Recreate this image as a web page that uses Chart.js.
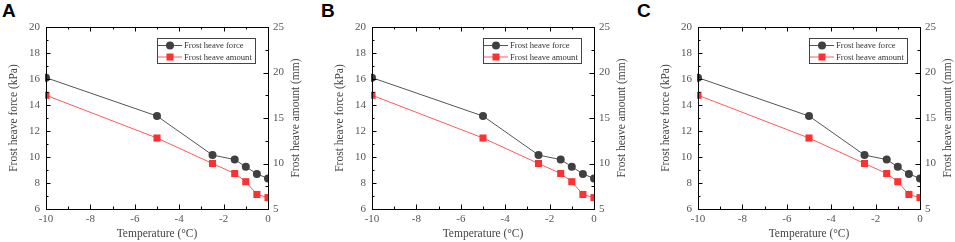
<!DOCTYPE html>
<html>
<head>
<meta charset="utf-8">
<script src="https://cdn.jsdelivr.net/npm/chart.js@4.4.1/dist/chart.umd.min.js"></script>
<style>
  html, body { margin: 0; padding: 0; background: #fff; }
  body { width: 955px; height: 242px; position: relative; overflow: hidden; }
  .panel { position: absolute; top: 0; width: 303px; height: 242px; }
  .letter { position: absolute; top: 0; font: bold 19px "Liberation Sans", Arial, sans-serif; color: #000; }
</style>
</head>
<body>
<div class="letter" style="left:2px">A</div>
<div class="letter" style="left:321px">B</div>
<div class="letter" style="left:637px">C</div>
<div class="panel" style="left:0px"><canvas id="chartA"></canvas></div>
<div class="panel" style="left:326px"><canvas id="chartB"></canvas></div>
<div class="panel" style="left:652px"><canvas id="chartC"></canvas></div>
<script>
const temperatures = [-10, -5, -2.5, -1.5, -1, -0.5, 0];
const heaveForce = [16.1, 13.15, 10.15, 9.8, 9.25, 8.7, 8.35];
const heaveAmount = [17.5, 12.8, 10.0, 8.9, 8.0, 6.6, 6.25];
const panels = ["chartA", "chartB", "chartC"];

const serif = "'Liberation Serif', 'Times New Roman', serif";

// frame, inward ticks on all sides, right axis title, boxed legend
const decorPlugin = {
    id: "decor",
    afterDraw(chart) {
        const ctx = chart.ctx;
        const ca = chart.chartArea;
        const x = chart.scales.x, y = chart.scales.y, y1 = chart.scales.y1;
        ctx.save();
        ctx.strokeStyle = "#000";
        ctx.lineWidth = 1;
        ctx.strokeRect(Math.round(ca.left) + 0.5, Math.round(ca.top) + 0.5,
            Math.round(ca.right - ca.left), Math.round(ca.bottom - ca.top));

        const line = (x1, y1_, x2, y2) => {
            ctx.beginPath();
            ctx.moveTo(x1, y1_);
            ctx.lineTo(x2, y2);
            ctx.stroke();
        };

        for (let v = -10; v <= 0; v += 1) {
            const px = Math.round(x.getPixelForValue(v)) + 0.5;
            const len = v % 2 === 0 ? 4.5 : 2.5;
            line(px, ca.bottom, px, ca.bottom - len);
            line(px, ca.top, px, ca.top + len);
        }
        for (let v = 6; v <= 20; v += 1) {
            const py = Math.round(y.getPixelForValue(v)) + 0.5;
            const len = v % 2 === 0 ? 4.5 : 2.5;
            line(ca.left, py, ca.left + len, py);
        }
        for (let v = 5; v <= 25; v += 2.5) {
            const py = Math.round(y1.getPixelForValue(v)) + 0.5;
            const len = v % 5 === 0 ? 4.5 : 2.5;
            line(ca.right, py, ca.right - len, py);
        }

        // right axis title, reading bottom to top
        ctx.fillStyle = "#444";
        ctx.font = "11.5px " + serif;
        ctx.textAlign = "center";
        ctx.textBaseline = "middle";
        ctx.translate(ca.right + 28, (ca.top + ca.bottom) / 2);
        ctx.rotate(-Math.PI / 2);
        ctx.fillText("Frost heave amount (mm)", 0, 0);
        ctx.restore();

        // legend
        ctx.save();
        const lx = Math.round(ca.left + 111), ly = Math.round(ca.top + 11);
        ctx.strokeStyle = "#444";
        ctx.lineWidth = 1;
        ctx.strokeRect(lx + 0.5, ly + 0.5, 98, 25);
        chart.data.datasets.forEach((ds, i) => {
            const ry = ly + 7.5 + i * 11.5;
            ctx.strokeStyle = ds.borderColor;
            ctx.lineWidth = 1;
            line(lx + 1, ry, lx + 25, ry);
            ctx.fillStyle = ds.pointBackgroundColor;
            if (ds.pointStyle === "rect") {
                ctx.fillRect(lx + 13 - 3.5, ry - 3.5, 7, 7);
            } else {
                ctx.beginPath();
                ctx.arc(lx + 13, ry, 4, 0, Math.PI * 2);
                ctx.fill();
            }
            ctx.fillStyle = "#333";
            ctx.font = "8.6px " + serif;
            ctx.textAlign = "left";
            ctx.textBaseline = "middle";
            ctx.fillText(ds.label, lx + 27, ry + 0.5);
        });
        ctx.restore();
    },
};

const makeChart = (id) => {
    const ctx = document.getElementById(id).getContext("2d");
    return new Chart(ctx, {
        type: "line",
        data: {
            labels: temperatures,
            datasets: [
                {
                    label: "Frost heave force",
                    data: temperatures.map((t, i) => ({ x: t, y: heaveForce[i] })),
                    yAxisID: "y",
                    borderColor: "#555555",
                    borderWidth: 1,
                    pointStyle: "circle",
                    pointRadius: 4,
                    pointBackgroundColor: "#404040",
                    pointBorderWidth: 0,
                    clip: 1,
                },
                {
                    label: "Frost heave amount",
                    data: temperatures.map((t, i) => ({ x: t, y: heaveAmount[i] })),
                    yAxisID: "y1",
                    borderColor: "#ff5a5a",
                    borderWidth: 1,
                    pointStyle: "rect",
                    pointRadius: 5,
                    pointBackgroundColor: "#ff3030",
                    pointBorderWidth: 0,
                    clip: 1,
                },
            ],
        },
        options: {
            responsive: false,
            animation: false,
            events: [],
            layout: { padding: { top: 27, left: 0, right: 0, bottom: 0 } },
            plugins: {
                legend: { display: false },
                tooltip: { enabled: false },
            },
            scales: {
                x: {
                    type: "linear",
                    min: -10,
                    max: 0,
                    ticks: {
                        stepSize: 2,
                        color: "#555",
                        font: { family: serif, size: 11 },
                        padding: 4,
                        maxRotation: 0,
                    },
                    grid: { display: false, drawTicks: false },
                    border: { display: false },
                    title: {
                        display: true,
                        text: "Temperature (°C)",
                        color: "#444",
                        font: { family: serif, size: 11.5 },
                        padding: { top: 0, bottom: 1 },
                    },
                    afterFit: (s) => { s.height = 33; },
                },
                y: {
                    position: "left",
                    min: 6,
                    max: 20,
                    ticks: {
                        stepSize: 2,
                        color: "#555",
                        font: { family: serif, size: 11 },
                        padding: 6,
                    },
                    grid: { display: false, drawTicks: false },
                    border: { display: false },
                    title: {
                        display: true,
                        text: "Frost heave force (kPa)",
                        color: "#444",
                        font: { family: serif, size: 11.5 },
                        padding: { top: 7, bottom: 0 },
                    },
                    afterFit: (s) => { s.width = 46; },
                },
                y1: {
                    position: "right",
                    min: 5,
                    max: 25,
                    ticks: {
                        stepSize: 5,
                        color: "#555",
                        font: { family: serif, size: 11 },
                        padding: 5,
                    },
                    grid: { display: false, drawTicks: false },
                    border: { display: false },
                    afterFit: (s) => { s.width = 35; },
                },
            },
        },
        plugins: [decorPlugin],
    });
};

panels.forEach((id) => {
    const c = document.getElementById(id);
    c.width = 303;
    c.height = 242;
    makeChart(id);
});
</script>
</body>
</html>
